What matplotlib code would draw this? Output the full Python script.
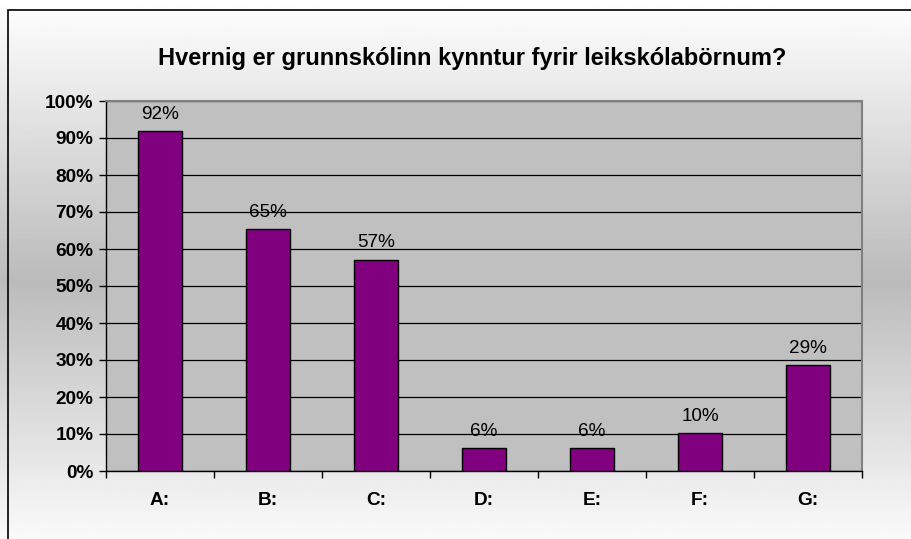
import numpy as np
import matplotlib
matplotlib.use("Agg")
import matplotlib.pyplot as plt
from matplotlib.ticker import FixedLocator, PercentFormatter
from matplotlib.patches import Rectangle

plt.rcParams['font.family'] = ['Liberation Sans', 'DejaVu Sans']

# data
title = "Hvernig er grunnskólinn kynntur fyrir leikskólabörnum?"
categories = ["A:", "B:", "C:", "D:", "E:", "F:", "G:"]
values = [91.8, 65.3, 57.1, 6.1, 6.1, 10.2, 28.6]
yticks = [0, 10, 20, 30, 40, 50, 60, 70, 80, 90, 100]

W, H = 912, 539
fig = plt.figure(figsize=(W / 100, H / 100), dpi=100)

# background gradient (white -> grey -> white)
bg = fig.add_axes([0, 0, 1, 1], zorder=0)
rows = np.linspace(0, 1, 300)
shade = 1 - (1 - 0xbb / 255) * np.clip(1 - np.abs(rows - 0.52) / 0.52, 0, 1)
img = np.repeat(shade[:, None], 2, axis=1)
bg.imshow(img, cmap="gray", vmin=0, vmax=1, aspect="auto", extent=[0, 1, 1, 0])
bg.set_xlim(0, 1)
bg.set_ylim(1, 0)
bg.axis("off")
# outer chart border (runs off the right and bottom edges)
bg.add_patch(Rectangle((8 / W, -1.0), 1.0, 2.0 - 10 / H, fill=False, edgecolor="black",
                       linewidth=1.2, transform=bg.transAxes, clip_on=False))

# plot area
left, right, top, bottom = 106, 862, 101, 471
ax = fig.add_axes([left / W, 1 - bottom / H, (right - left) / W, (bottom - top) / H], zorder=1)
ax.set_facecolor("#c0c0c0")

x = np.arange(len(categories))
bars = ax.bar(x, values, width=0.41, color="#800080", edgecolor="black", linewidth=1.0, zorder=3)

for xi, v in zip(x, values):
    ax.annotate("{:.0f}%".format(v), (xi, v), xytext=(0, 6), textcoords="offset points",
                ha="center", va="bottom", fontsize=13.6, color="black", zorder=4)

ax.set_xlim(-0.5, len(categories) - 0.5)
ax.set_ylim(0, 100)
ax.yaxis.set_major_locator(FixedLocator(yticks))
ax.yaxis.set_major_formatter(PercentFormatter(decimals=0))
ax.grid(axis="y", color="black", linewidth=0.9, zorder=1)
ax.set_axisbelow(True)

ax.set_xticks(x)
ax.set_xticklabels(categories, fontweight="bold", fontsize=13.7)
ax.tick_params(axis="x", which="major", length=0, pad=15)
ax.set_xticks(np.arange(len(categories) + 1) - 0.5, minor=True)
ax.tick_params(axis="x", which="minor", length=5, width=1, direction="out")
ax.tick_params(axis="y", length=5, width=1, direction="out", labelsize=13.7, pad=4)
for lab in ax.get_yticklabels():
    lab.set_fontweight("bold")

for side in ["top", "right"]:
    ax.spines[side].set_color("#808080")
    ax.spines[side].set_linewidth(1.5)
for side in ["left", "bottom"]:
    ax.spines[side].set_color("black")
    ax.spines[side].set_linewidth(1.0)

fig.text(472 / W, 1 - 58 / H, title, ha="center", va="center",
         fontsize=17, fontweight="bold", zorder=2)

fig.savefig("out.png", dpi=100)
